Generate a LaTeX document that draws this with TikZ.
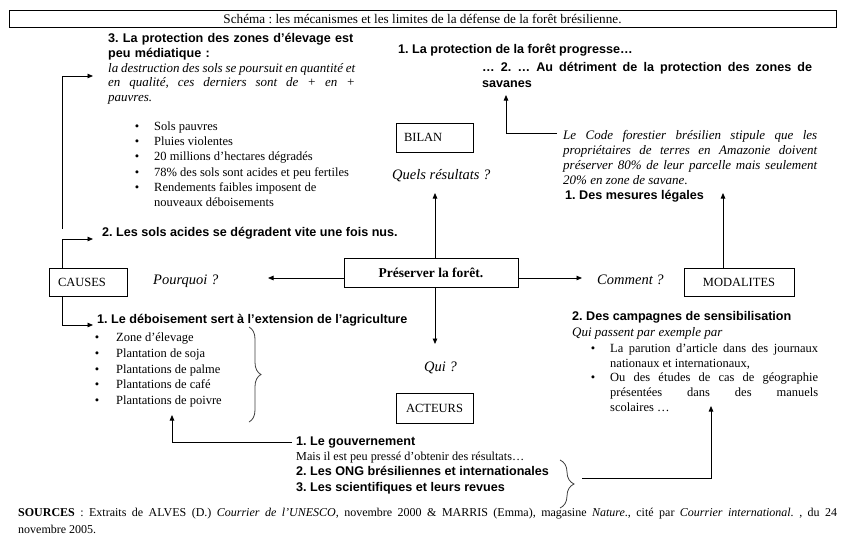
\documentclass[tikz,border=0pt]{standalone}
\usepackage{fontspec}
\setmainfont{Liberation Serif}
\newfontfamily\arial{Liberation Sans}
\usetikzlibrary{arrows.meta,decorations.pathreplacing}
\frenchspacing
\tikzset{
  boite/.style={draw,line width=0.8pt,minimum height=29pt,inner sep=0pt,font=\fontsize{12.5}{14}\selectfont},
  gras/.style={anchor=base west,inner sep=0pt,font=\arial\bfseries\fontsize{12.6}{16}\selectfont},
  texte/.style={anchor=base west,inner sep=0pt,font=\fontsize{12.5}{15}\selectfont},
  ital/.style={anchor=base west,inner sep=0pt,font=\itshape\fontsize{13}{15}\selectfont},
  question/.style={anchor=base west,inner sep=0pt,font=\itshape\fontsize{14.5}{16}\selectfont},
  puce/.style={anchor=base,inner sep=0pt,font=\fontsize{12.5}{15}\selectfont},
  fleche/.style={-{Triangle[length=5.5pt,width=4.5pt]},line width=0.8pt},
  accolade/.style={decorate,decoration={brace,amplitude=#1},draw=black!75,line width=0.8pt},
}
\begin{document}
\begin{tikzpicture}[x=1pt,y=-1pt]
                                \fill[white] (0,0) rectangle (845,551);
                                \useasboundingbox (0,0) rectangle (845,551);
                                \node[boite,minimum width=827pt,minimum height=17pt,font=\fontsize{13.2}{14}\selectfont] (titre) at (422.5,18.5) {Schéma : les mécanismes et les limites de la défense de la forêt brésilienne.};
                                \node[gras,text width=260pt,align=left,font=\arial\bfseries\fontsize{12.6}{15.5}\selectfont] (elevage) at (108,42) {3. La protection des zones d’élevage est\\peu médiatique :};
                                \node[ital,text width=247pt,align=justify,font=\itshape\fontsize{13}{14.5}\selectfont] (destruction) at (108,72) {la destruction des sols se poursuit en quantité et\linebreak en qualité, ces derniers sont de + en +\linebreak pauvres.};
                                \foreach \ligne [count=\i from 0] in {Sols pauvres,Pluies violentes,20 millions d’hectares dégradés,78\% des sols sont acides et peu fertiles,Rendements faibles imposent de,nouveaux déboisements}
                                    \node[texte] (sol\i) at (154,130.5+15.2*\i) {\ligne};
                                \foreach \i in {0,...,4}
                                    \node[puce] at (137,130.5+15.2*\i) {\textbullet};
                                \node[gras] (acides) at (102,236.5) {2. Les sols acides se dégradent vite une fois nus.};
                                \node[boite,text width=60pt,inner xsep=9pt,align=left,minimum height=28pt] (causes) at (88,282) {CAUSES};
                                \node[question] (pourquoi) at (153,284) {Pourquoi~?};
                                \node[gras] (deboisement) at (97,323.5) {1. Le déboisement sert à l’extension de l’agriculture};
                                \foreach \ligne [count=\i from 0] in {Zone d’élevage,Plantation de soja,Plantations de palme,Plantations de café,Plantations de poivre}{
                                    \node[puce] at (97,341.5+15.75*\i) {\textbullet};
                                    \node[texte] (culture\i) at (116,341.5+15.75*\i) {\ligne};
                                }
                                \node[boite,minimum width=174pt,font=\bfseries\fontsize{13.5}{15}\selectfont] (centre) at (431,272.5) {Préserver la forêt.};
                                \node[gras] (progresse) at (398,54) {1. La protection de la forêt progresse…};
                                \node[gras,text width=330pt,align=justify] (detriment) at (482,71) {… 2. … Au détriment de la protection des zones de\linebreak savanes};
                                \node[boite,text width=61pt,inner xsep=8pt,align=left] (bilan) at (434.5,137.5) {BILAN};
                                \node[question] (resultats) at (392,179) {Quels résultats~?};
                                \node[ital,text width=254pt,align=justify] (code) at (563,139.5) {Le Code forestier brésilien stipule que les\linebreak propriétaires de terres en Amazonie doivent\linebreak préserver 80\% de leur parcelle mais seulement\linebreak 20\% en zone de savane.};
                                \node[gras] (mesures) at (565,199.5) {1. Des mesures légales};
                                \node[boite,minimum width=110pt,minimum height=28pt] (modalites) at (739,282) {MODALITES};
                                \node[question] (comment) at (597,284) {Comment~?};
                                \node[gras] (campagnes) at (572,320.5) {2. Des campagnes de sensibilisation};
                                \node[ital] (exemple) at (572,336.5) {Qui passent par exemple par};
                                \node[puce] at (593,352.5) {\textbullet};
                                \node[texte,text width=208pt,align=justify] (media1) at (610,352.5) {La parution d’article dans des journaux\linebreak nationaux et internationaux,};
                                \node[puce] at (593,381.5) {\textbullet};
                                \node[texte,text width=208pt,align=justify] (media2) at (610,381.5) {Ou des études de cas de géographie\linebreak présentées dans des manuels\linebreak scolaires …};
                                \node[question] (qui) at (424,371) {Qui~?};
                                \node[boite,minimum width=77pt,minimum height=30pt] (acteurs) at (434.5,408) {ACTEURS};
                                \node[gras] (gouvernement) at (296,445.5) {1. Le gouvernement};
                                \node[texte,font=\fontsize{12.2}{14}\selectfont] (presse) at (296,460.5) {Mais il est peu pressé d’obtenir des résultats…};
                                \node[gras] (ong) at (296,475.5) {2. Les ONG brésiliennes et internationales};
                                \node[gras] (revues) at (296,491.5) {3. Les scientifiques et leurs revues};
                                \node[texte,text width=819pt,align=justify,font=\fontsize{12}{17}\selectfont] (sources) at (18,516.5) {\textbf{SOURCES} : Extraits de ALVES (D.) \textit{Courrier de l’UNESCO}, novembre 2000 \& MARRIS (Emma), magasine \textit{Nature}., cité par \textit{Courrier international.} , du 24\linebreak novembre 2005.};
                                \coordinate (depart elevage) at (62,229);
                                \coordinate (vers elevage) at (93,76);
                                \draw[fleche] (depart elevage) |- (vers elevage);
                                \coordinate (vers acides) at (93,239);
                                \draw[fleche] ([xshift=-26pt]causes.north) |- (vers acides);
                                \coordinate (vers deboisement) at (93,325);
                                \draw[fleche] ([xshift=-26pt]causes.south) |- (vers deboisement);
                                \coordinate (vers pourquoi) at (268,278);
                                \draw[fleche] (centre.west |- vers pourquoi) -- (vers pourquoi);
                                \coordinate (vers comment) at (582,278);
                                \draw[fleche] (centre.east |- vers comment) -- (vers comment);
                                \coordinate (vers resultats) at (435,193);
                                \draw[fleche] (centre.north -| vers resultats) -- (vers resultats);
                                \coordinate (vers qui) at (435,344);
                                \draw[fleche] (centre.south -| vers qui) -- (vers qui);
                                \coordinate (vers mesures) at (723,193);
                                \draw[fleche] (modalites.north -| vers mesures) -- (vers mesures);
                                \coordinate (depart code) at (557,133);
                                \coordinate (vers savanes) at (506,95);
                                \draw[fleche] (depart code) -| (vers savanes);
                                \coordinate (depart gouvernement) at (292,442);
                                \coordinate (vers cultures) at (172,415);
                                \draw[fleche] (depart gouvernement) -| (vers cultures);
                                \coordinate (depart ong) at (582,478);
                                \coordinate (vers medias) at (711,406);
                                \draw[fleche] (depart ong) -| (vers medias);
                                \draw[accolade=12pt] (249,327) -- (249,422);
                                \draw[accolade=14pt] (560,460) -- (560,508);
                            \end{tikzpicture}
\end{document}
